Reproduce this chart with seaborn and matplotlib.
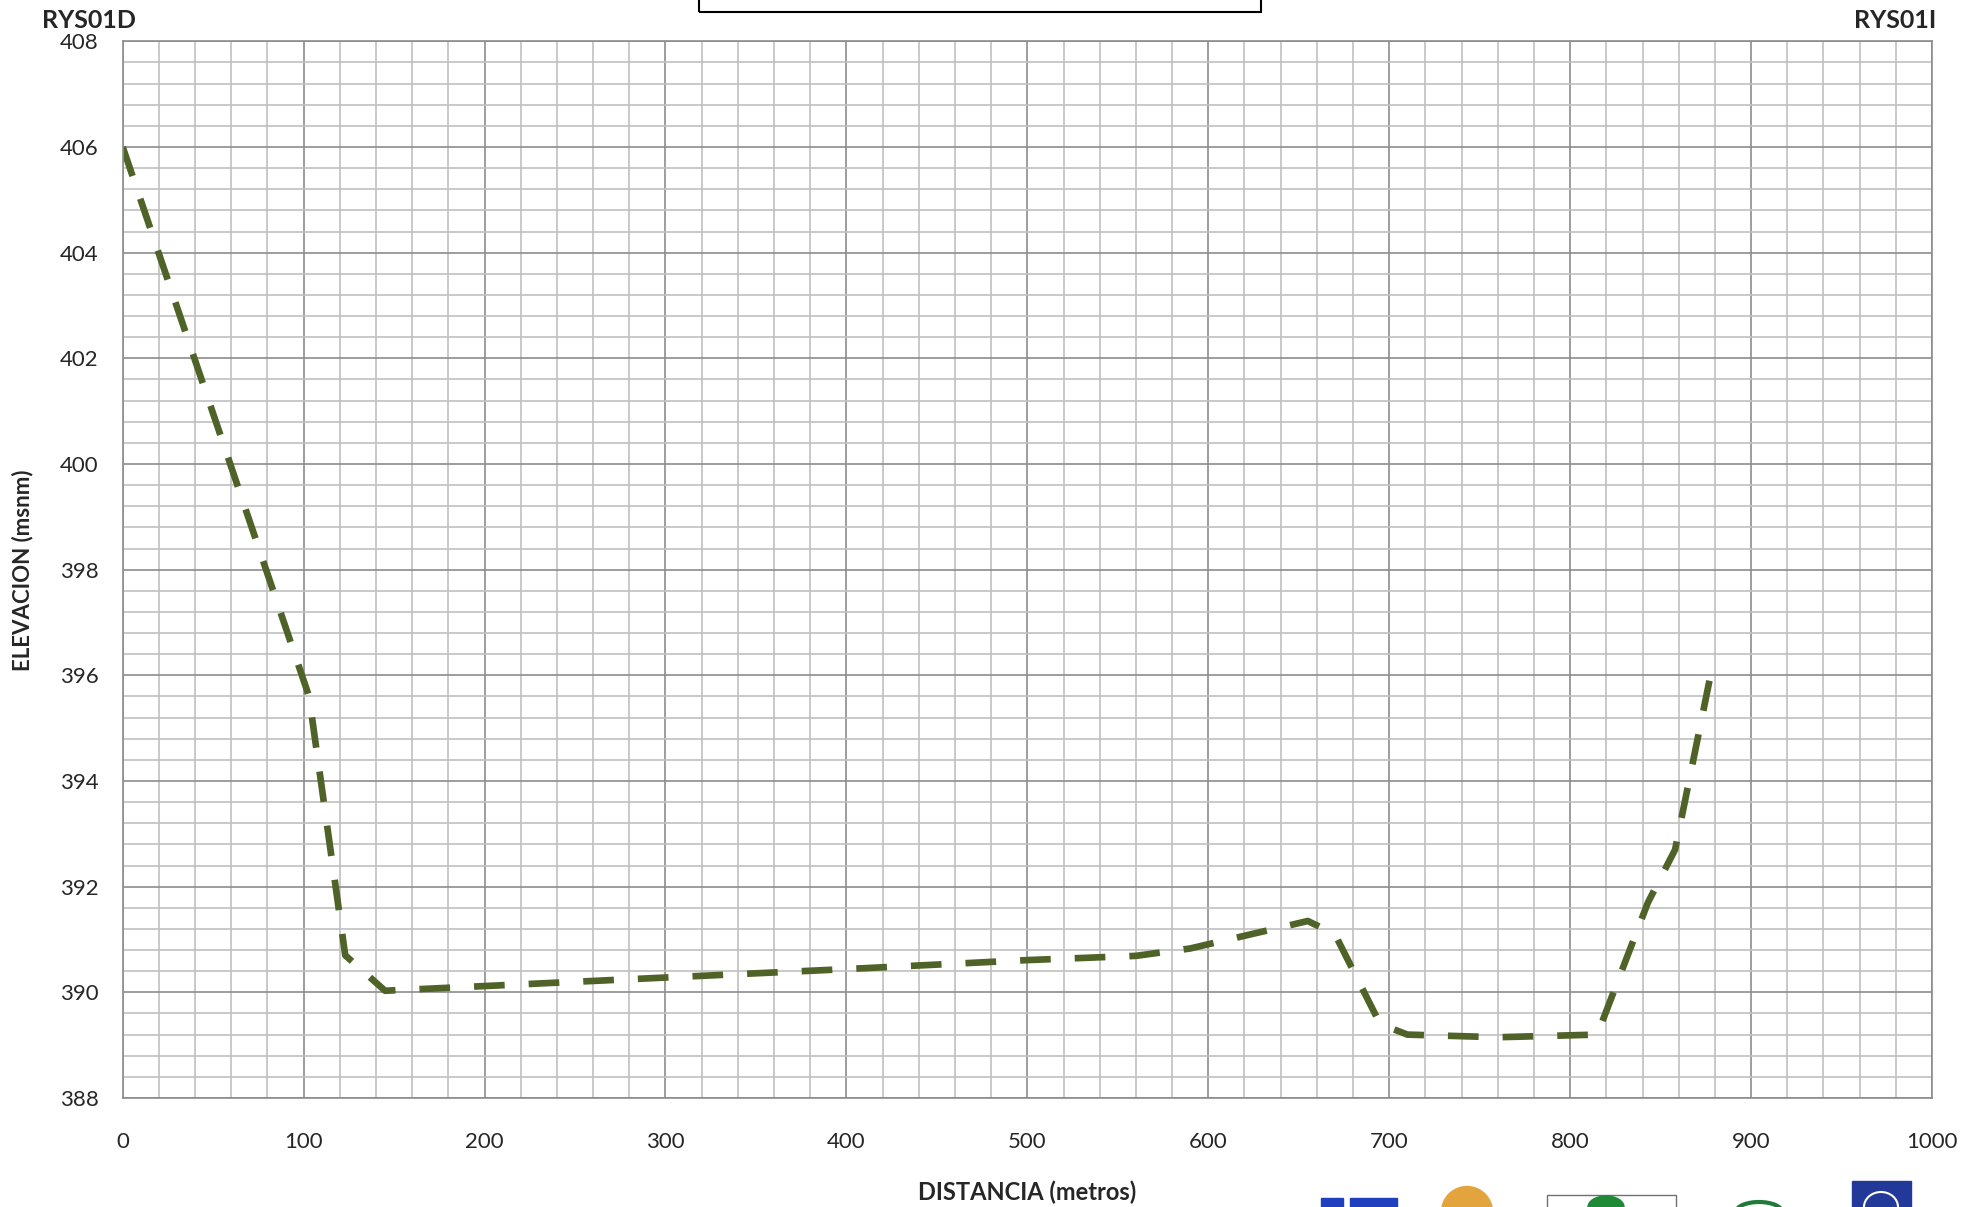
import matplotlib
matplotlib.use("Agg")
import matplotlib.pyplot as plt
import matplotlib.patches as mpatches
from matplotlib.ticker import MultipleLocator
import seaborn as sns

# perfil transversal RYS01
distancia = [0, 103, 123, 145, 300, 400, 500, 560, 590, 620, 655,
             670, 695, 710, 760, 815, 843, 858, 877]
elevacion = [406.0, 395.6, 390.7, 390.03, 390.28, 390.44, 390.61, 390.69, 390.83,
             391.07, 391.35, 391.1, 389.4, 389.2, 389.15, 389.2, 391.7, 392.7, 395.9]

x_ticks = list(range(0, 1001, 100))
y_ticks = list(range(388, 409, 2))

W, H = 1963, 1207

sns.set_style("white")
plt.rcParams['font.family'] = ['Lato', 'DejaVu Sans']

fig, ax = plt.subplots(figsize=(W / 100, H / 100), dpi=100)
fig.subplots_adjust(left=122.7 / W, right=1932 / W,
                    bottom=1 - 1098 / H, top=1 - 41.3 / H)

ax.set_axisbelow(True)
sns.lineplot(x=distancia, y=elevacion, ax=ax, sort=False, color='#4F6228',
             linewidth=4.8, estimator=None)
line = ax.get_lines()[0]
line.set_dashes((4.6, 3.6))
line.set_dash_capstyle('butt')

ax.set_xlim(0, 1000)
ax.set_ylim(388, 408)
ax.set_xticks(x_ticks)
ax.set_yticks(y_ticks)
ax.xaxis.set_minor_locator(MultipleLocator(20))
ax.yaxis.set_minor_locator(MultipleLocator(0.4))
ax.grid(which='major', color='#8C8C8C', linewidth=1.2)
ax.grid(which='minor', color='#C0C0C0', linewidth=1.2)
ax.tick_params(which='major', length=6.5, width=1.2, color='#8C8C8C',
               labelsize=16, direction='out')
ax.tick_params(axis='x', which='major', pad=18)
ax.tick_params(axis='y', which='major', pad=11)
ax.tick_params(which='minor', length=0)
for s in ax.spines.values():
    s.set_color('#8C8C8C')
    s.set_linewidth(1.2)
ax.set_xlabel('')
ax.set_ylabel('')

# etiquetas
fig.text(89 / W, 1 - 20 / H, 'RYS01D', fontsize=18, fontweight='bold',
         ha='center', va='center')
fig.text(1895 / W, 1 - 21 / H, 'RYS01I', fontsize=18, fontweight='bold',
         ha='center', va='center')
fig.text(22.5 / W, 1 - 570 / H, 'ELEVACION (msnm)', fontsize=16, fontweight='bold',
         rotation=90, ha='center', va='center')
fig.text(1027 / W, 1 - 1192 / H, 'DISTANCIA (metros)', fontsize=17, fontweight='bold',
         ha='center', va='center')

# recuadro del titulo (cortado arriba)
fig.add_artist(mpatches.Rectangle((699 / W, 1 - 11.7 / H), 562 / W, 40 / H,
                                  transform=fig.transFigure, fill=False,
                                  edgecolor='black', linewidth=1.5, clip_on=False))

# logos aproximados abajo a la derecha
def px(x, y):
    return x / W, 1 - y / H

fig.add_artist(mpatches.Rectangle(px(1321, 1207), 22 / W, 9 / H, transform=fig.transFigure,
                                  color='#1F3FBF', clip_on=False))
fig.add_artist(mpatches.Rectangle(px(1350, 1207), 47 / W, 9 / H, transform=fig.transFigure,
                                  color='#1F3FBF', clip_on=False))
fig.add_artist(mpatches.Ellipse(px(1467, 1212), 51 / W, 51 / H, transform=fig.transFigure,
                                color='#E3A43D', clip_on=False))
fig.add_artist(mpatches.Rectangle(px(1547, 1215), 129 / W, 20 / H, transform=fig.transFigure,
                                  fill=False, edgecolor='#707070', linewidth=1, clip_on=False))
fig.add_artist(mpatches.Ellipse(px(1606, 1207), 36 / W, 22 / H, transform=fig.transFigure,
                                color='#1E8A35', clip_on=False))
fig.add_artist(mpatches.Ellipse(px(1759, 1212), 46 / W, 20 / H, transform=fig.transFigure,
                                fill=False, edgecolor='#1E7B3A', linewidth=3, clip_on=False))
fig.add_artist(mpatches.Rectangle(px(1852, 1210), 59 / W, 29 / H, transform=fig.transFigure,
                                  color='#23399A', clip_on=False))
fig.add_artist(mpatches.Ellipse(px(1881, 1207), 34 / W, 30 / H, transform=fig.transFigure,
                                fill=False, edgecolor='white', linewidth=1.5, clip_on=False))

fig.savefig('out.png', dpi=100)
